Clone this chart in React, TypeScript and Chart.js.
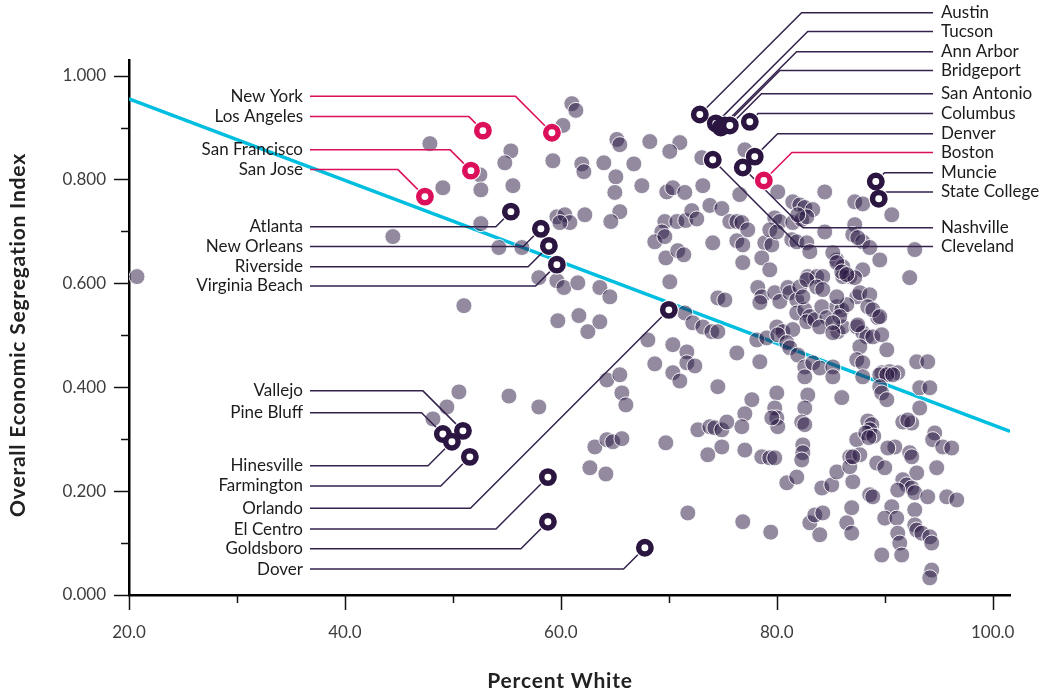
import React, { useEffect, useRef } from "react";
import { Chart, registerables } from "chart.js";

Chart.register(...registerables);

// ---------- DATA ----------
// Other metros: [percent white, overall economic segregation index]
const otherMetros: [number, number][] = [
  [20.74, 0.613], [47.87, 0.869], [49.07, 0.784], [52.5, 0.809], [52.59, 0.78], [52.59, 0.715],
  [44.44, 0.69], [55.37, 0.855], [54.81, 0.832], [55.56, 0.788], [54.26, 0.669], [56.39, 0.669],
  [51.02, 0.557], [50.56, 0.391], [49.44, 0.362], [48.15, 0.339], [55.19, 0.383], [57.96, 0.362],
  [61.02, 0.946], [61.39, 0.933], [60.19, 0.904], [59.26, 0.836], [61.94, 0.83], [62.13, 0.815],
  [59.63, 0.728], [60.37, 0.732], [60.83, 0.717], [59.91, 0.717], [62.22, 0.732], [57.96, 0.611],
  [59.63, 0.605], [60.28, 0.592], [61.57, 0.601], [59.72, 0.528], [61.67, 0.538], [62.5, 0.507],
  [65.19, 0.877], [65.46, 0.867], [68.24, 0.873], [71.02, 0.871], [70.09, 0.854], [73.06, 0.842],
  [77.04, 0.857], [63.98, 0.832], [66.76, 0.83], [65.09, 0.805], [67.5, 0.788], [65.0, 0.775],
  [69.81, 0.776], [70.37, 0.784], [71.48, 0.775], [73.15, 0.788], [65.46, 0.738], [64.63, 0.719],
  [69.63, 0.719], [69.35, 0.699], [70.74, 0.719], [71.57, 0.721], [72.13, 0.74], [72.59, 0.724],
  [73.8, 0.75], [74.91, 0.744], [75.65, 0.719], [76.3, 0.719], [76.76, 0.717], [77.31, 0.703],
  [68.7, 0.68], [69.63, 0.69], [69.72, 0.649], [70.83, 0.663], [71.39, 0.655], [74.07, 0.678],
  [76.3, 0.682], [76.85, 0.674], [70.09, 0.603], [76.85, 0.64], [78.89, 0.678], [79.54, 0.674],
  [78.61, 0.649], [79.35, 0.626], [63.61, 0.592], [64.54, 0.574], [74.54, 0.572], [75.19, 0.568],
  [78.24, 0.592], [78.61, 0.574], [79.81, 0.582], [80.28, 0.565], [81.02, 0.592], [81.2, 0.582],
  [81.85, 0.568], [71.48, 0.543], [63.61, 0.526], [72.22, 0.524], [73.15, 0.516], [73.98, 0.507],
  [74.54, 0.507], [80.0, 0.516], [80.56, 0.507], [81.48, 0.511], [81.85, 0.543], [68.06, 0.491],
  [70.37, 0.482], [71.67, 0.468], [68.7, 0.445], [70.37, 0.428], [71.02, 0.412], [71.67, 0.447],
  [72.41, 0.441], [64.26, 0.414], [65.46, 0.424], [65.65, 0.389], [66.02, 0.366], [74.54, 0.401],
  [76.3, 0.466], [78.43, 0.449], [77.69, 0.376], [77.04, 0.349], [76.76, 0.324], [80.0, 0.389],
  [79.81, 0.36], [80.0, 0.341], [80.09, 0.324], [79.54, 0.341], [72.69, 0.318], [73.8, 0.324],
  [74.26, 0.322], [74.91, 0.318], [75.37, 0.333], [73.61, 0.27], [74.91, 0.285], [77.04, 0.279],
  [78.61, 0.266], [79.35, 0.264], [79.81, 0.264], [80.93, 0.216], [81.85, 0.227], [63.15, 0.285],
  [64.26, 0.299], [64.81, 0.295], [65.65, 0.301], [62.69, 0.245], [64.17, 0.233], [69.72, 0.293],
  [71.76, 0.158], [76.85, 0.141], [79.44, 0.121], [76.57, 0.771], [80.09, 0.776], [81.48, 0.757],
  [82.13, 0.751], [82.59, 0.746], [83.33, 0.742], [84.44, 0.776], [87.22, 0.757], [79.81, 0.726],
  [80.28, 0.719], [79.35, 0.703], [80.0, 0.699], [81.48, 0.717], [82.31, 0.723], [82.78, 0.728],
  [81.94, 0.732], [81.39, 0.684], [81.85, 0.68], [82.78, 0.678], [83.06, 0.661], [82.87, 0.613],
  [83.7, 0.613], [84.26, 0.613], [85.56, 0.645], [86.11, 0.632], [86.76, 0.613], [86.11, 0.613],
  [82.13, 0.593], [78.43, 0.563], [82.59, 0.549], [83.06, 0.536], [82.78, 0.526], [83.52, 0.53],
  [84.17, 0.555], [84.63, 0.534], [85.65, 0.507], [86.11, 0.516], [85.56, 0.555], [87.41, 0.574],
  [78.15, 0.491], [79.07, 0.495], [80.09, 0.501], [80.93, 0.486], [81.2, 0.476], [81.94, 0.462],
  [82.59, 0.439], [83.33, 0.447], [83.98, 0.437], [85.19, 0.439], [84.44, 0.699], [87.96, 0.753],
  [90.65, 0.732], [87.22, 0.713], [87.04, 0.694], [87.96, 0.68], [87.5, 0.688], [88.61, 0.669],
  [92.78, 0.665], [89.54, 0.645], [87.96, 0.626], [87.22, 0.611], [92.31, 0.611], [87.69, 0.582],
  [88.61, 0.578], [89.35, 0.534], [87.41, 0.516], [87.96, 0.505], [88.33, 0.497], [88.89, 0.497],
  [89.72, 0.501], [90.19, 0.472], [87.69, 0.478], [87.41, 0.453], [87.96, 0.447], [92.96, 0.449],
  [93.98, 0.449], [89.72, 0.428], [90.46, 0.43], [91.2, 0.428], [85.19, 0.659], [85.56, 0.64],
  [86.02, 0.622], [86.48, 0.617], [82.78, 0.607], [83.7, 0.593], [84.26, 0.588], [82.41, 0.574],
  [86.02, 0.549], [86.48, 0.559], [85.83, 0.536], [85.56, 0.574], [88.43, 0.555], [88.89, 0.549],
  [89.54, 0.536], [83.98, 0.516], [85.19, 0.524], [85.19, 0.505], [87.5, 0.52], [82.87, 0.385],
  [82.59, 0.36], [82.31, 0.333], [82.59, 0.328], [85.19, 0.42], [86.02, 0.38], [82.59, 0.42],
  [82.41, 0.289], [82.41, 0.274], [82.31, 0.26], [84.17, 0.206], [85.09, 0.212], [85.56, 0.237],
  [87.04, 0.218], [87.41, 0.299], [86.76, 0.266], [86.76, 0.247], [83.06, 0.139], [83.52, 0.154],
  [84.26, 0.158], [83.98, 0.116], [86.94, 0.168], [86.48, 0.139], [86.94, 0.119], [87.96, 0.42],
  [89.54, 0.424], [90.19, 0.424], [90.74, 0.424], [89.54, 0.401], [89.72, 0.389], [90.19, 0.376],
  [93.24, 0.399], [94.17, 0.399], [93.24, 0.36], [88.43, 0.335], [88.8, 0.328], [88.61, 0.318],
  [88.24, 0.312], [88.98, 0.306], [88.52, 0.303], [87.69, 0.27], [87.04, 0.266], [91.67, 0.333],
  [92.5, 0.331], [92.13, 0.337], [94.63, 0.312], [94.44, 0.299], [95.37, 0.285], [96.2, 0.283],
  [90.93, 0.285], [90.28, 0.283], [92.31, 0.274], [92.5, 0.266], [89.26, 0.254], [90.0, 0.245],
  [94.81, 0.245], [92.96, 0.235], [91.67, 0.222], [92.04, 0.212], [92.5, 0.206], [91.2, 0.202],
  [92.78, 0.197], [88.61, 0.193], [88.89, 0.189], [93.98, 0.189], [95.74, 0.189], [96.67, 0.183],
  [90.65, 0.17], [90.0, 0.148], [91.11, 0.148], [92.78, 0.164], [92.78, 0.135], [92.96, 0.125],
  [93.43, 0.119], [94.17, 0.112], [94.35, 0.1], [91.2, 0.119], [91.39, 0.1], [91.57, 0.077],
  [89.72, 0.077], [94.35, 0.048], [94.17, 0.033],
];

type City = { name: string; x: number; y: number; labelY: number; side: "left" | "right" };

const pinkCities: City[] = [
  { name: "New York", x: 59.17, y: 0.89, labelY: 0.96, side: "left" },
  { name: "Los Angeles", x: 52.78, y: 0.894, labelY: 0.921, side: "left" },
  { name: "San Francisco", x: 51.67, y: 0.817, labelY: 0.857, side: "left" },
  { name: "San Jose", x: 47.41, y: 0.767, labelY: 0.819, side: "left" },
  { name: "Boston", x: 78.8, y: 0.798, labelY: 0.852, side: "right" },
];

const darkCities: City[] = [
  { name: "Atlanta", x: 55.37, y: 0.738, labelY: 0.709, side: "left" },
  { name: "New Orleans", x: 58.15, y: 0.705, labelY: 0.671, side: "left" },
  { name: "Riverside", x: 58.89, y: 0.672, labelY: 0.632, side: "left" },
  { name: "Virginia Beach", x: 59.63, y: 0.636, labelY: 0.595, side: "left" },
  { name: "Vallejo", x: 50.93, y: 0.316, labelY: 0.393, side: "left" },
  { name: "Pine Bluff", x: 49.07, y: 0.31, labelY: 0.351, side: "left" },
  { name: "Hinesville", x: 49.91, y: 0.295, labelY: 0.249, side: "left" },
  { name: "Farmington", x: 51.57, y: 0.266, labelY: 0.21, side: "left" },
  { name: "Orlando", x: 70.0, y: 0.549, labelY: 0.167, side: "left" },
  { name: "El Centro", x: 58.8, y: 0.227, labelY: 0.127, side: "left" },
  { name: "Goldsboro", x: 58.8, y: 0.141, labelY: 0.089, side: "left" },
  { name: "Dover", x: 67.78, y: 0.091, labelY: 0.05, side: "left" },
  { name: "Austin", x: 72.87, y: 0.925, labelY: 1.121, side: "right" },
  { name: "Tucson", x: 74.35, y: 0.908, labelY: 1.085, side: "right" },
  { name: "Ann Arbor", x: 74.81, y: 0.9, labelY: 1.046, side: "right" },
  { name: "Bridgeport", x: 75.19, y: 0.904, labelY: 1.01, side: "right" },
  { name: "San Antonio", x: 75.65, y: 0.904, labelY: 0.965, side: "right" },
  { name: "Columbus", x: 77.5, y: 0.911, labelY: 0.927, side: "right" },
  { name: "Denver", x: 77.96, y: 0.844, labelY: 0.888, side: "right" },
  { name: "Muncie", x: 89.17, y: 0.796, labelY: 0.813, side: "right" },
  { name: "State College", x: 89.44, y: 0.763, labelY: 0.776, side: "right" },
  { name: "Nashville", x: 76.85, y: 0.823, labelY: 0.707, side: "right" },
  { name: "Cleveland", x: 74.07, y: 0.838, labelY: 0.671, side: "right" },
];

// Fitted trend line end points
const trendX = [20, 101.6];
const trendY = [0.955, 0.315];

const xMajorTicks = [20, 40, 60, 80, 100];
const xMinorTicks = [30, 50, 70, 90];
const yMajorTicks = [0, 0.2, 0.4, 0.6, 0.8, 1.0];
const yMinorTicks = [0.1, 0.3, 0.5, 0.7, 0.9];

const xTitle = "Percent White";
const yTitle = "Overall Economic Segregation Index";

// ---------- STYLE ----------
const FONT = "Lato, 'Noto Sans', sans-serif";
const PINK = "#dc0f5a";
const DARK = "#2a1640";
const DARK_LINE = "#34224c";
const GRAY_FILL = "rgba(40,22,66,0.5)";
const CYAN = "#00bedf";
const GRAY_INDEX = 1;

const annotationPlugin = {
  id: "annotations",
  afterDatasetDraw(chart: any, args: any) {
    if (args.index !== GRAY_INDEX) return;
    const { ctx, chartArea } = chart;
    const xs = chart.scales.x;
    const ys = chart.scales.y;
    const leftStart = chartArea.left + 181;
    const rightEnd = chartArea.right - 77;
    const drawLeader = (c: City, color: string) => {
      const px = xs.getPixelForValue(c.x);
      const py = ys.getPixelForValue(c.y);
      const ly = ys.getPixelForValue(c.labelY);
      const d = Math.abs(ly - py);
      ctx.beginPath();
      if (c.side === "left") {
        ctx.moveTo(leftStart, ly);
        ctx.lineTo(px - d, ly);
        ctx.lineTo(px, py);
      } else {
        ctx.moveTo(px, py);
        ctx.lineTo(px + d, ly);
        ctx.lineTo(rightEnd, ly);
      }
      ctx.strokeStyle = color;
      ctx.lineWidth = 1.5;
      ctx.stroke();
    };
    ctx.save();
    darkCities.forEach((c) => drawLeader(c, DARK_LINE));
    pinkCities.forEach((c) => drawLeader(c, PINK));
    ctx.restore();
  },
  afterDraw(chart: any) {
    const { ctx, chartArea } = chart;
    const xs = chart.scales.x;
    const ys = chart.scales.y;
    ctx.save();
    // tick marks
    ctx.strokeStyle = "#111";
    ctx.lineWidth = 1.5;
    const yTick = (v: number, len: number) => {
      const p = Math.round(ys.getPixelForValue(v)) + 0.5;
      ctx.beginPath();
      ctx.moveTo(chartArea.left - len, p);
      ctx.lineTo(chartArea.left, p);
      ctx.stroke();
    };
    const xTick = (v: number, len: number) => {
      const p = Math.round(xs.getPixelForValue(v)) + 0.5;
      ctx.beginPath();
      ctx.moveTo(p, chartArea.bottom);
      ctx.lineTo(p, chartArea.bottom + len);
      ctx.stroke();
    };
    yMajorTicks.forEach((v) => yTick(v, 15));
    yMinorTicks.forEach((v) => yTick(v, 8));
    xMajorTicks.forEach((v) => xTick(v, 15));
    xMinorTicks.forEach((v) => xTick(v, 8));

    // city labels
    ctx.font = `17px ${FONT}`;
    ctx.fillStyle = "#1c1c1c";
    ctx.textBaseline = "middle";
    const labelLeft = chartArea.left + 174;
    const labelRight = chartArea.right - 69;
    [...pinkCities, ...darkCities].forEach((c) => {
      const ly = ys.getPixelForValue(c.labelY);
      if (c.side === "left") {
        ctx.textAlign = "right";
        ctx.fillText(c.name, labelLeft, ly);
      } else {
        ctx.textAlign = "left";
        ctx.fillText(c.name, labelRight, ly);
      }
    });

    // axis titles
    ctx.fillStyle = "#222";
    ctx.font = `bold 21px ${FONT}`;
    (ctx as any).letterSpacing = "0.8px";
    ctx.textAlign = "center";
    ctx.textBaseline = "middle";
    ctx.fillText(xTitle, chartArea.left + 431, chartArea.bottom + 86);
    ctx.translate(18, chartArea.top + 275);
    ctx.rotate(-Math.PI / 2);
    ctx.fillText(yTitle, 0, 0);
    (ctx as any).letterSpacing = "0px";
    ctx.restore();
  },
};

export default function App() {
  const canvasRef = useRef<HTMLCanvasElement | null>(null);

  useEffect(() => {
    if (!canvasRef.current) return;
    const chart = new Chart(canvasRef.current, {
      type: "scatter",
      data: {
        datasets: [
          {
            type: "line",
            label: "trend",
            data: trendX.map((x, i) => ({ x, y: trendY[i] })),
            borderColor: CYAN,
            borderWidth: 3.5,
            pointRadius: 0,
            fill: false,
            order: 4,
          } as any,
          {
            label: "metros",
            data: otherMetros.map(([x, y]) => ({ x, y })),
            backgroundColor: GRAY_FILL,
            borderColor: "rgba(255,255,255,0.9)",
            borderWidth: 1,
            pointRadius: 8,
            pointHoverRadius: 8,
            order: 3,
          },
          {
            label: "halo",
            data: [...darkCities, ...pinkCities].map((c) => ({ x: c.x, y: c.y })),
            backgroundColor: "#ffffff",
            borderWidth: 0,
            pointRadius: 10,
            order: 2,
          },
          {
            label: "dark",
            data: darkCities.map((c) => ({ x: c.x, y: c.y })),
            backgroundColor: "#ffffff",
            borderColor: DARK,
            borderWidth: 5.5,
            pointRadius: 6.2,
            order: 1,
          },
          {
            label: "pink",
            data: pinkCities.map((c) => ({ x: c.x, y: c.y })),
            backgroundColor: "#ffffff",
            borderColor: PINK,
            borderWidth: 5.5,
            pointRadius: 6.2,
            order: 0,
          },
        ],
      },
      options: {
        animation: false,
        responsive: false,
        events: [],
        layout: { padding: { top: 60, right: 37, left: 0, bottom: 0 } },
        plugins: { legend: { display: false }, tooltip: { enabled: false } },
        scales: {
          x: {
            type: "linear",
            min: 20,
            max: 101.6,
            afterFit: (s: any) => {
              s.height = 101;
            },
            afterBuildTicks: (s: any) => {
              s.ticks = xMajorTicks.map((v) => ({ value: v }));
            },
            grid: { display: false, drawTicks: false },
            border: { display: true, color: "#000", width: 2.5 },
            ticks: {
              padding: 27,
              color: "#3d3d3d",
              font: { family: FONT, size: 17 },
              callback: (v: any) => Number(v).toFixed(1),
              maxRotation: 0,
              autoSkip: false,
            },
          },
          y: {
            type: "linear",
            min: 0,
            max: 1.03,
            afterFit: (s: any) => {
              s.width = 129;
            },
            afterBuildTicks: (s: any) => {
              s.ticks = yMajorTicks.map((v) => ({ value: v }));
            },
            grid: { display: false, drawTicks: false },
            border: { display: true, color: "#000", width: 2.5 },
            ticks: {
              padding: 23,
              color: "#3d3d3d",
              font: { family: FONT, size: 17 },
              callback: (v: any) => Number(v).toFixed(3),
              autoSkip: false,
            },
          },
        },
      },
      plugins: [annotationPlugin],
    });
    return () => chart.destroy();
  }, []);

  return (
    <div style={{ position: "absolute", left: 0, top: 0, width: 1047, height: 696, background: "#fff" }}>
      <canvas ref={canvasRef} width={1047} height={696} style={{ display: "block" }} />
    </div>
  );
}
